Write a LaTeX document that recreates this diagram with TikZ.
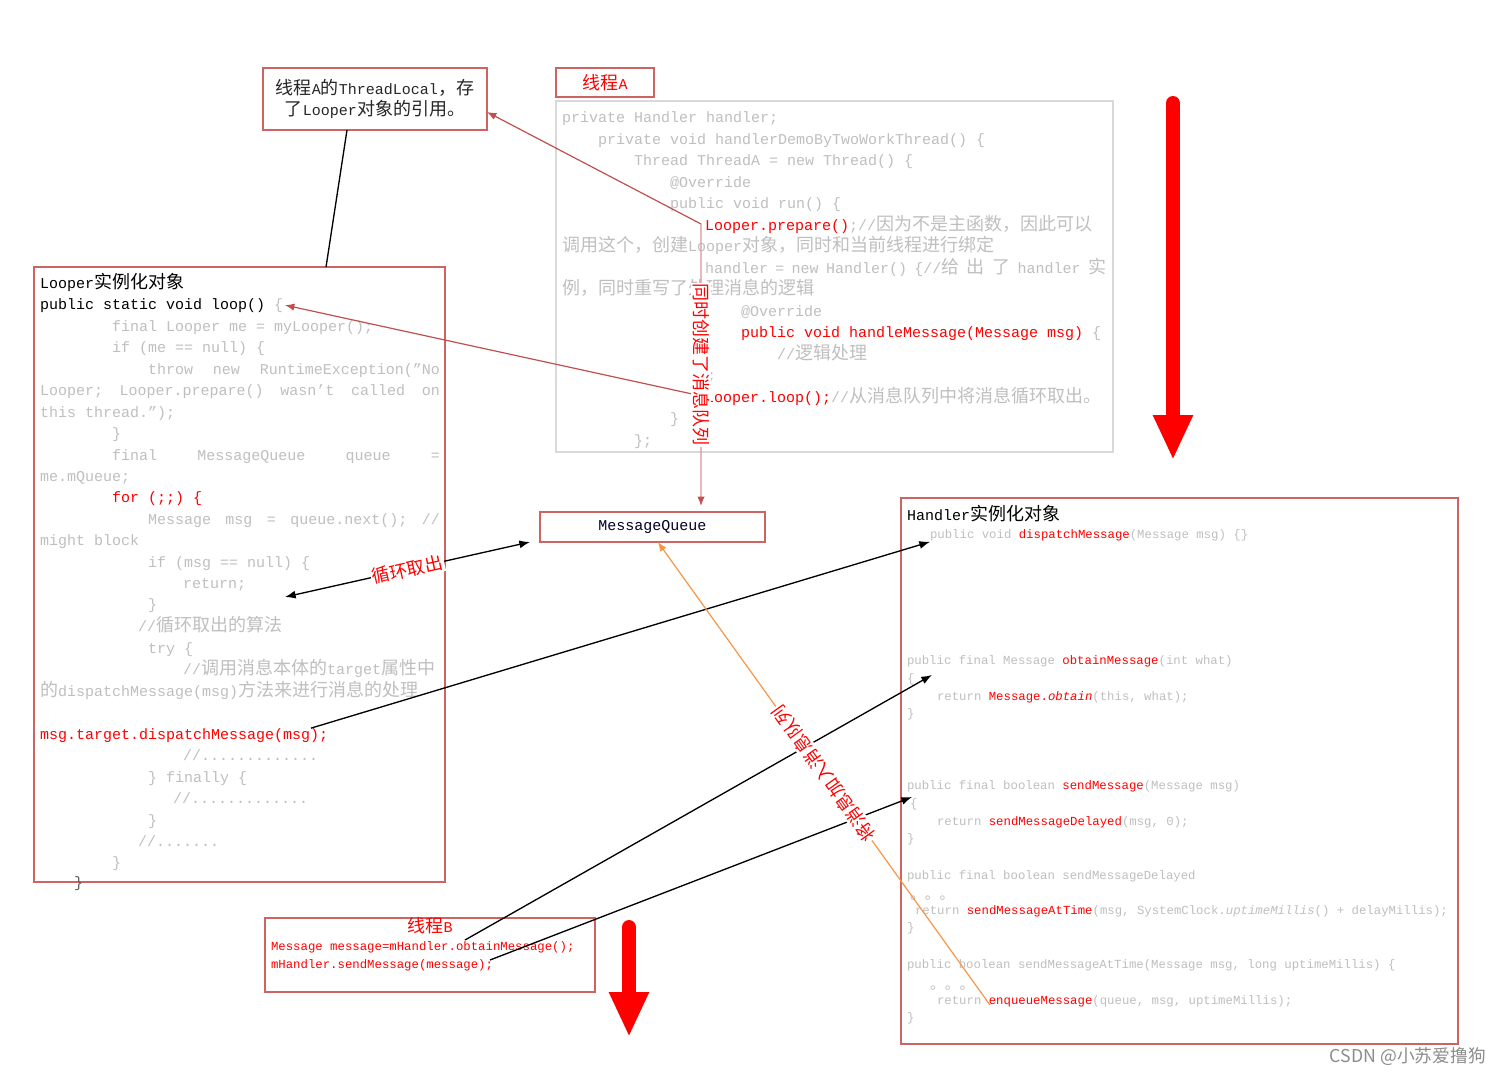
\documentclass[tikz,border=0pt]{standalone}
\usepackage{fontspec}
\setmainfont{Liberation Mono}
\newfontfamily\cjkfont[Scale=1.2]{Noto Sans CJK SC}
\newfontfamily\wmfont{Noto Sans CJK SC}
\usetikzlibrary{arrows.meta}

\definecolor{codegray}{RGB}{191,191,191}
\definecolor{boxred}{RGB}{205,100,98}
\definecolor{arrred}{RGB}{192,80,77}
\definecolor{salmon}{RGB}{217,150,148}
\definecolor{orangeA}{RGB}{247,150,70}
\definecolor{boxgray}{RGB}{217,217,217}
\definecolor{wmgray}{RGB}{140,140,140}

\newcommand\szL{\fontsize{11.25}{13.5}\selectfont}
\newcommand\szS{\fontsize{9.25}{11}\selectfont}
\newcommand\rd[1]{\textcolor{red}{#1}}
\newcommand\zh[1]{{\cjkfont #1}}

\tikzset{
  cl/.style={anchor=base west, inner sep=0pt, outer sep=0pt, text=codegray, font=\szL},
  cs/.style={cl, font=\szS},
  frame/.style={draw=boxred, line width=1pt, inner sep=0pt, outer sep=0pt},
  conn/.style={draw=black, line width=1pt},
  redline/.style={draw=arrred, line width=0.9pt},
  salmonline/.style={draw=salmon, line width=1pt},
  orangeline/.style={draw=orangeA, line width=0.9pt},
  lab/.style={fill=white, text=red, font=\szL, inner sep=1pt},
  bigarrow/.style={draw=red, line width=10.5pt, line cap=round, -{Triangle[length=33.75pt,width=27.75pt]}},
  btip/.style={-{Latex[length=8pt,width=6pt]}},
  rtip/.style={-{Latex[length=7pt,width=5.5pt]}}
}

\begin{document}
\begin{tikzpicture}[x=0.75pt,y=-0.75pt]
\useasboundingbox (0,0) rectangle (1500,1075);
\fill[white] (0,0) rectangle (1500,1075);

% ---------- boxes ----------
\node[frame, minimum width=168pt, minimum height=46.5pt] (tl) at (375,99) {};
\node[anchor=base, inner sep=0pt, font=\szL, text=black!85] (tlt1) at (375,94) {\zh{线程}A\zh{的}ThreadLocal\zh{，存}};
\node[anchor=base, inner sep=0pt, font=\szL, text=black!85] (tlt2) at (375,115) {\zh{了}Looper\zh{对象的引用。}};
\node[frame, minimum width=73.5pt, minimum height=21.75pt, text=red, font=\szL] (thA) at (605,82.5) {\zh{线程}A};
\node[frame, draw=boxgray, minimum width=417.75pt, minimum height=263.25pt] (thAbox) at (834.5,276.5) {};
\node[frame, minimum width=308.25pt, minimum height=461.25pt] (looper) at (239.5,574.5) {};
\node[frame, minimum width=168.75pt, minimum height=22.5pt, font=\szL, text=black!85!blue] (mq) at (652.5,527) {MessageQueue};
\node[frame, minimum width=417.75pt, minimum height=409.5pt] (handler) at (1179.5,771) {};
\node[frame, minimum width=247.5pt, minimum height=55.5pt] (thB) at (430,955) {};

% ---------- thread A code ----------
\node[cl] (a1) at (562,122) {private Handler handler;};
\node[cl] (a2) at (598,144) {private void handlerDemoByTwoWorkThread() \{};
\node[cl] (a3) at (634,165) {Thread ThreadA = new Thread() \{};
\node[cl] (a4) at (670,187) {@Override};
\node[cl] (a5) at (670,208) {public void run() \{};
\node[cl] (prep) at (705,230) {\rd{Looper.prepare()};//\zh{因为不是主函数，因此可以}};
\node[cl] (a7) at (562,251) {\zh{调用这个，创建}Looper\zh{对象，同时和当前线程进行绑定}};
\node[cl] (a8) at (705,273) {\hbox to 300.75pt{handler\hfill =\hfill new\hfill Handler()\hfill \{//\zh{给}\hfill\zh{出}\hfill\zh{了}\hfill handler\hfill\zh{实}}};
\node[cl] (a9) at (562,294) {\zh{例，同时重写了处理消息的逻辑}};
\node[cl] (a10) at (741,316) {@Override};
\node[cl] (a11) at (741,337) {\rd{public void handleMessage(Message msg)} \{};
\node[cl] (a12) at (777,359) {//\zh{逻辑处理}};
\node[cl] (a13) at (698,380) {\};};
\node[cl] (lloop) at (705,402) {\rd{Looper.loop();}//\zh{从消息队列中将消息循环取出。}};
\node[cl] (a15) at (670,423) {\}};
\node[cl] (a16) at (634,445) {\};};

% ---------- Looper code ----------
\node[cl, text=black] (L1) at (40,288) {Looper\zh{实例化对象}};
\node[cl, text=black] (loopline) at (40,309) {public static void loop() \textcolor{codegray}{\{}};
\node[cl] (L3) at (112,331) {final Looper me = myLooper();};
\node[cl] (L4) at (112,352) {if (me == null) \{};
\node[cl] (L5) at (148,374) {\hbox to 219pt{throw\hfill new\hfill RuntimeException("No}};
\node[cl] (L6) at (40,395) {\hbox to 300pt{Looper;\hfill Looper.prepare()\hfill wasn't\hfill called\hfill on}};
\node[cl] (L7) at (40,417) {this thread.");};
\node[cl] (L8) at (112,438) {\}};
\node[cl] (L9) at (112,460) {\hbox to 246pt{final\hfill MessageQueue\hfill queue\hfill =}};
\node[cl] (L10) at (40,481) {me.mQueue;};
\node[cl, text=red] (L11) at (112,502) {for (;;) \{};
\node[cl] (L12) at (148,524) {\hbox to 219pt{Message\hfill msg\hfill =\hfill queue.next();\hfill //}};
\node[cl] (L13) at (40,545) {might block};
\node[cl] (L14) at (148,567) {if (msg == null) \{};
\node[cl] (L15) at (183,588) {return;};
\node[cl] (L16) at (148,609) {\}};
\node[cl] (L17) at (138,631) {//\zh{循环取出的算法}};
\node[cl] (L18) at (148,653) {try \{};
\node[cl] (L19) at (183,674) {//\zh{调用消息本体的}target\zh{属性中}};
\node[cl] (L20) at (40,696) {\zh{的}dispatchMessage(msg)\zh{方法来进行消息的处理}};
\node[cl, text=red] (dm) at (40,739) {msg.target.dispatchMessage(msg);};
\node[cl] (L22) at (183,760) {//.............};
\node[cl] (L23) at (148,782) {\} finally \{};
\node[cl] (L24) at (173,803) {//.............};
\node[cl] (L25) at (148,825) {\}};
\node[cl] (L26) at (138,846) {//.......};
\node[cl] (L27) at (112,867) {\}};
\node[cl, text=black!65] (L28) at (74,887) {\}};

% ---------- Handler code ----------
\node[cl, text=black] (H1) at (907,520) {Handler\zh{实例化对象}};
\node[cs] (hd1) at (930,538) {public void \rd{dispatchMessage}(Message msg) \{\}};
\node[cs] (H3) at (907,664) {public final Message \rd{obtainMessage}(int what)};
\node[cs] (H4) at (907,682) {\{};
\node[cs] (H5) at (937,700) {return \rd{Message.{\itshape obtain}}(this, what);};
\node[cs] (H6) at (907,717) {\}};
\node[cs] (H7) at (907,789) {public final boolean \rd{sendMessage}(Message msg)};
\node[cs] (H8) at (910,807) {\{};
\node[cs] (H9) at (937,825) {return \rd{sendMessageDelayed}(msg, 0);};
\node[cs] (H10) at (907,842) {\}};
\node[cs] (H11) at (907,879) {public final boolean sendMessageDelayed};
\node[cs] (H12) at (910,899) {\zh{。。。}};
\node[cs] (H13) at (915,914) {return \rd{sendMessageAtTime}(msg, SystemClock.{\itshape uptimeMillis}() + delayMillis);};
\node[cs] (H14) at (907,931) {\}};
\node[cs] (H15) at (907,968) {public boolean sendMessageAtTime(Message msg, long uptimeMillis) \{};
\node[cs] (H16) at (930,989) {\zh{。。。}};
\node[cs] (H17) at (937,1004) {return \rd{enqueueMessage}(queue, msg, uptimeMillis);};
\node[cs] (H18) at (907,1021) {\}};

% ---------- thread B ----------
\node[inner sep=0pt, text=red, font=\szL] (B0) at (430,926) {\zh{线程}B};
\node[cs, text=red] (B1) at (271,950) {Message message=mHandler.obtainMessage();};
\node[cs, text=red] (B2) at (271,968) {mHandler.sendMessage(message);};

% ---------- coordinates ----------
\coordinate (cyA) at (530,542);
\coordinate (cyB) at (285,597);
\coordinate (obS) at (465,940);
\coordinate (obE) at (932,675);
\coordinate (sdS) at (490,960);
\coordinate (sdE) at (912,797);
\coordinate (enS) at (990,1005);
\coordinate (ra1) at (1173,103);
\coordinate (ra2) at (1173,460);
\coordinate (rb1) at (629,927);
\coordinate (rb2) at (629,1037);

% ---------- connectors ----------
\draw[conn] ([xshift=-21pt]tl.south) -- ([xshift=64.9pt]looper.north);
\draw[redline, rtip] ([xshift=-3pt]prep.west) -- ([yshift=-9.75pt]tl.east);
\draw[redline, rtip] ([xshift=-3pt]lloop.west) -- ([xshift=1.5pt]loopline.east);
\draw[salmonline, -{Latex[length=7pt,width=5.5pt,color=arrred]}] ([xshift=-3pt]prep.west) -- ([xshift=36.4pt,yshift=4.5pt]mq.north)
  node[pos=0.5, lab, rotate=-90] (labQ) {\zh{同时创建了消息队列}};
\draw[conn, {Latex[length=8pt,width=6pt]}-{Latex[length=8pt,width=6pt]}] (cyB) -- (cyA)
  node[pos=0.5, lab, rotate=12.65] (labC) {\zh{循环取出}};
\draw[conn, btip] ([xshift=-12.75pt,yshift=5.25pt]dm.east) -- ([yshift=-5.25pt]hd1.west);
\draw[conn, btip] (obS) -- (obE);
\draw[conn, btip] (sdS) -- (sdE);
\draw[orangeline, rtip] (enS) -- ([xshift=4pt]mq.south)
  node[pos=0.5, lab, rotate=125.7] (labE) {\zh{将消息加入消息队列}};

% ---------- big red arrows ----------
\draw[bigarrow] (ra1) -- (ra2);
\draw[bigarrow] (rb1) -- (rb2);

% ---------- watermark ----------
\node[anchor=base east, inner sep=0pt, text=wmgray] (wm) at (1486,1062)
  {\wmfont\fontsize{13.3}{16}\selectfont CSDN @小苏爱撸狗};
\end{tikzpicture}
\end{document}
